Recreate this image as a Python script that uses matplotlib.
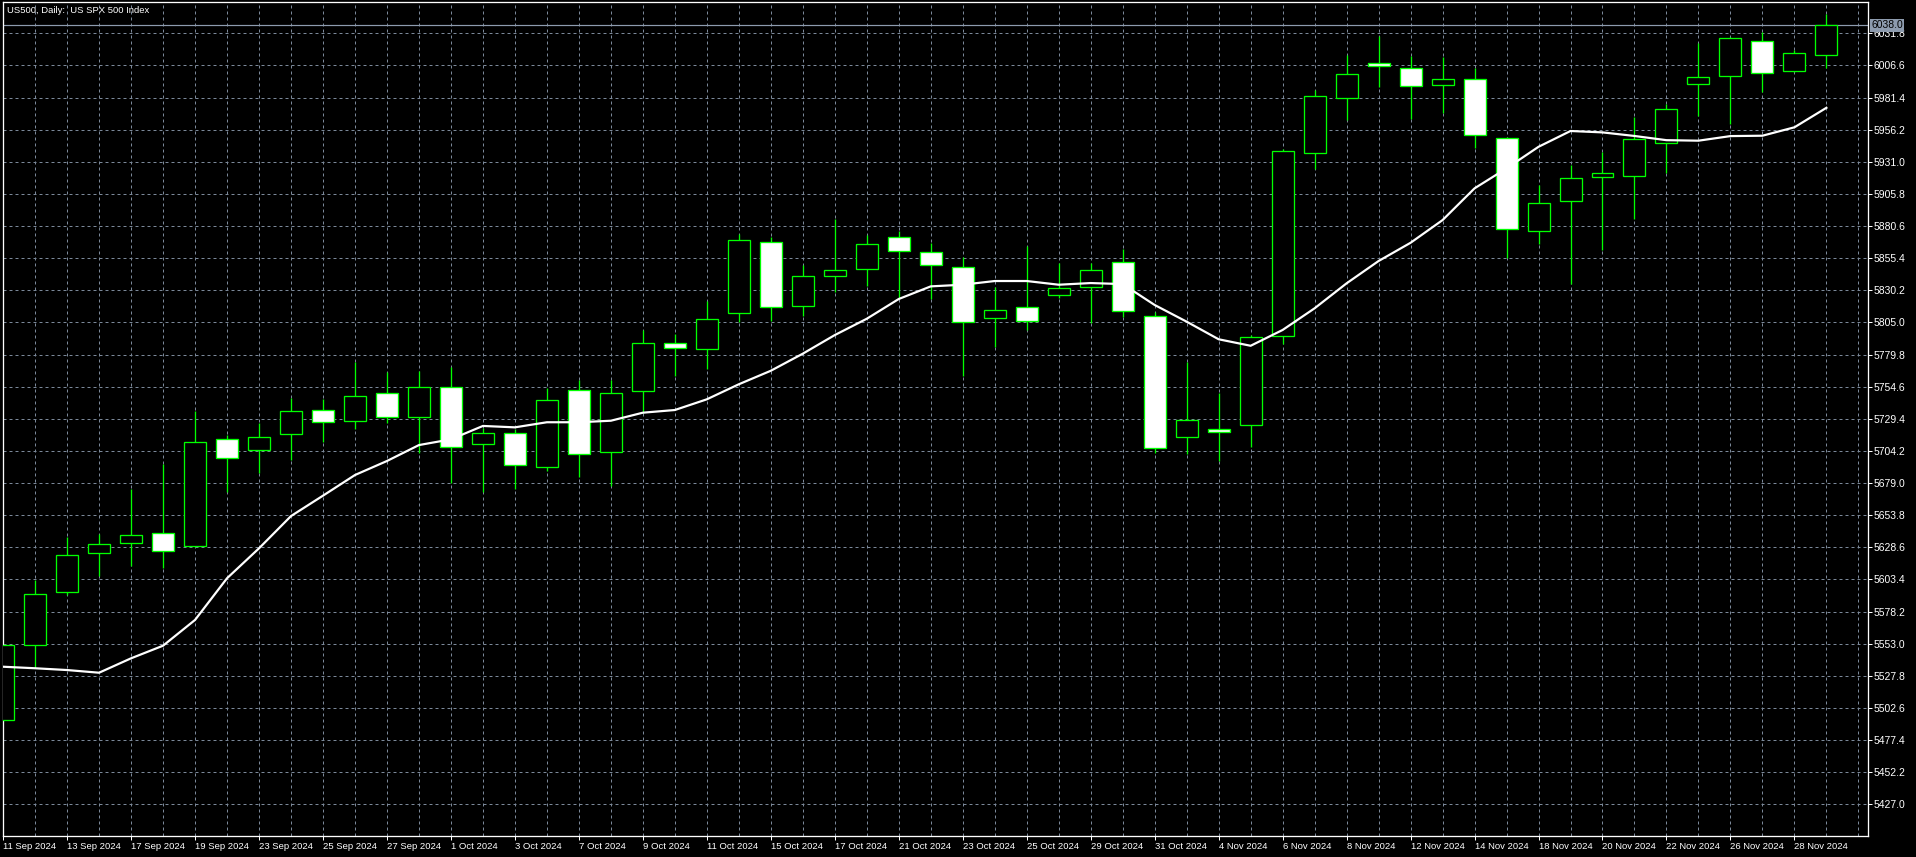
import numpy as np
import matplotlib.pyplot as plt
from matplotlib.transforms import blended_transform_factory

# daily bars, 11 Sep 2024 .. 29 Nov 2024 (58 trading days)
opens = [5493.0, 5551.7, 5593.3, 5623.9, 5632.2, 5639.6, 5629.9, 5713.3, 5704.7, 5717.2,
         5736.5, 5727.4, 5749.4, 5731.0, 5754.6, 5709.4, 5718.0, 5691.8, 5751.8, 5703.6,
         5751.4, 5789.1, 5784.4, 5812.6, 5867.9, 5818.1, 5841.2, 5846.7, 5872.2, 5860.5,
         5848.7, 5808.2, 5817.3, 5826.7, 5832.6, 5852.2, 5809.8, 5714.9, 5721.2, 5724.3,
         5794.1, 5937.7, 5980.8, 6008.3, 6004.8, 5991.0, 5996.2, 5949.9, 5876.7, 5900.0,
         5919.1, 5919.6, 5945.5, 5991.8, 5998.1, 6026.0, 6002.0, 6014.5]
highs = [5553.0, 5602.9, 5636.9, 5638.8, 5674.1, 5693.7, 5735.8, 5716.7, 5726.3, 5746.0,
         5745.0, 5773.7, 5765.9, 5766.9, 5769.8, 5721.9, 5721.6, 5753.8, 5759.6, 5759.6,
         5799.1, 5796.2, 5821.8, 5874.6, 5872.3, 5850.0, 5885.9, 5873.6, 5876.9, 5867.1,
         5856.1, 5832.6, 5864.9, 5851.8, 5851.8, 5862.4, 5812.9, 5773.7, 5749.9, 5795.1,
         5941.0, 5987.3, 6014.8, 6029.7, 6014.0, 6013.4, 6004.3, 5950.7, 5912.8, 5928.5,
         5938.5, 5966.4, 5976.3, 6024.0, 6028.7, 6032.6, 6018.7, 6046.9]
lows = [5492.0, 5534.9, 5591.0, 5606.3, 5614.3, 5612.1, 5629.0, 5672.2, 5686.6, 5697.1,
        5711.2, 5721.2, 5726.3, 5702.3, 5678.8, 5672.2, 5674.1, 5688.7, 5684.0, 5676.9,
        5733.7, 5763.0, 5768.5, 5805.3, 5806.1, 5809.8, 5828.6, 5833.8, 5823.9, 5823.1,
        5763.0, 5786.0, 5799.1, 5823.9, 5804.8, 5809.0, 5702.3, 5701.5, 5696.5, 5707.5,
        5788.1, 5925.4, 5963.8, 5989.4, 5964.3, 5969.5, 5941.6, 5855.3, 5866.3, 5834.9,
        5861.8, 5886.1, 5922.4, 5967.2, 5960.4, 5986.0, 6001.5, 6004.6]
closes = [5552.0, 5591.7, 5622.3, 5631.0, 5638.0, 5625.9, 5711.0, 5698.4, 5714.9, 5735.3,
          5726.6, 5747.0, 5730.6, 5754.1, 5707.3, 5718.0, 5692.9, 5743.9, 5701.5, 5749.6,
          5788.6, 5784.9, 5807.4, 5869.4, 5816.9, 5841.2, 5845.9, 5866.3, 5860.8, 5849.8,
          5805.1, 5814.5, 5806.1, 5831.8, 5845.9, 5813.7, 5706.3, 5728.2, 5718.8, 5793.3,
          5939.2, 5982.4, 5999.6, 6005.9, 5990.2, 5995.7, 5951.8, 5878.0, 5898.4, 5918.5,
          5922.0, 5948.6, 5972.2, 5997.3, 6027.9, 6000.7, 6016.1, 6038.0]
# moving average drawn on the chart
ma_line = [5534.9, 5533.7, 5532.3, 5530.2, 5541.5, 5551.4, 5571.6, 5604.3, 5627.8, 5653.1,
           5669.1, 5685.3, 5696.3, 5708.8, 5713.3, 5723.8, 5722.7, 5726.7, 5726.7, 5727.9,
           5734.2, 5736.3, 5744.7, 5756.5, 5767.1, 5780.5, 5795.1, 5807.9, 5823.4, 5833.3,
           5834.6, 5837.5, 5837.5, 5834.6, 5835.9, 5835.1, 5818.7, 5805.6, 5791.8, 5786.7,
           5799.1, 5816.1, 5835.7, 5853.2, 5867.5, 5885.3, 5910.2, 5925.9, 5942.8, 5955.2,
           5954.1, 5951.3, 5948.0, 5947.6, 5951.2, 5951.5, 5958.1, 5973.4]
tick_labels = ["11 Sep 2024", "13 Sep 2024", "17 Sep 2024", "19 Sep 2024", "23 Sep 2024",
               "25 Sep 2024", "27 Sep 2024", "1 Oct 2024", "3 Oct 2024", "7 Oct 2024",
               "9 Oct 2024", "11 Oct 2024", "15 Oct 2024", "17 Oct 2024", "21 Oct 2024",
               "23 Oct 2024", "25 Oct 2024", "29 Oct 2024", "31 Oct 2024", "4 Nov 2024",
               "6 Nov 2024", "8 Nov 2024", "12 Nov 2024", "14 Nov 2024", "18 Nov 2024",
               "20 Nov 2024", "22 Nov 2024", "26 Nov 2024", "28 Nov 2024"]
price_levels = [5427.0, 5452.2, 5477.4, 5502.6, 5527.8, 5553.0, 5578.2, 5603.4, 5628.6,
                5653.8, 5679.0, 5704.2, 5729.4, 5754.6, 5779.8, 5805.0, 5830.2, 5855.4,
                5880.6, 5905.8, 5931.0, 5956.2, 5981.4, 6006.6, 6031.8]
bid = 6038.0
title = "US500, Daily:  US SPX 500 Index"

W, H = 1916, 857
PX = 0.72  # one pixel in points at dpi 100
GREEN = "#00ff00"
GRID = "#7b8899"

plt.rcParams["font.family"] = ["Liberation Sans", "DejaVu Sans"]

fig = plt.figure(figsize=(W / 100, H / 100), dpi=100, facecolor="black")
ax = fig.add_axes([2.7 / W, 21 / H, 1865.3 / W, 834 / H], facecolor="black")

x = np.arange(len(opens))
o = np.array(opens)
c = np.array(closes)
bull = c >= o

ax.set_xlim(-0.0125, 58.3)
ax.set_ylim(5402.1, 6056.4)

# dashed grid: one vertical line per bar, horizontals at the price levels
for gx in range(59):
    ax.axvline(gx, color=GRID, lw=PX, ls=(0, (3, 3)), zorder=0)
for gy in price_levels:
    ax.axhline(gy, color=GRID, lw=PX, ls=(0, (3, 3)), zorder=0)

# bid line
ax.axhline(bid, color="#8d9bae", lw=PX * 1.2, zorder=1)

# candles
ax.vlines(x, lows, highs, color=GREEN, lw=PX * 1.3, zorder=2)
body_bottom = np.minimum(o, c)
body_h = np.maximum(np.abs(c - o), 0.6)
ax.bar(x, body_h, bottom=body_bottom, width=0.6875,
       color=np.where(bull, "black", "white"), edgecolor=GREEN,
       linewidth=PX * 1.3, zorder=3)

# moving average
ax.plot(x, ma_line, color="white", lw=PX * 2.2, zorder=4, solid_joinstyle="round")

# axes frame
for s in ax.spines.values():
    s.set_color("white")
    s.set_linewidth(PX * 1.3)

ax.yaxis.tick_right()
ax.set_yticks(price_levels)
ax.set_yticklabels(["%.1f" % v for v in price_levels])
ax.set_xticks(x[::2])
ax.set_xticklabels(tick_labels, ha="left")
ax.tick_params(axis="y", colors="white", length=3.5 * PX, width=PX, pad=1.5, labelsize=7.5)
ax.tick_params(axis="x", colors="white", length=4 * PX, width=PX, pad=1.5, labelsize=6.8)

# bid price tag on the right scale
tr = blended_transform_factory(ax.transAxes, ax.transData)
ax.text(1.0017, bid, "%.1f" % bid, transform=tr, ha="left", va="center",
        fontsize=7.5, color="black", zorder=10,
        bbox=dict(facecolor="#8d9bae", edgecolor="none", pad=0.8))

fig.text(7 / W, 1 - 10.5 / H, title, color="white", fontsize=6.8, ha="left", va="center")

fig.savefig("out.png", dpi=100, facecolor="black")
